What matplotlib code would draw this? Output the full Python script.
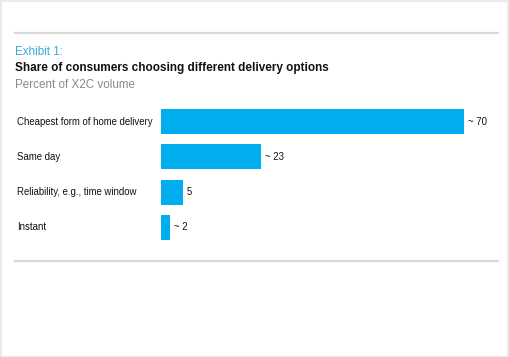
import matplotlib
matplotlib.use("Agg")
import matplotlib.pyplot as plt
from matplotlib.lines import Line2D
from matplotlib.patches import Rectangle
from matplotlib.transforms import blended_transform_factory

plt.rcParams['font.family'] = ['Liberation Sans', 'DejaVu Sans']

# data
categories = ["Cheapest form of home delivery", "Same day",
              "Reliability, e.g., time window", "Instant"]
values = [70, 23, 5, 2]
value_labels = ["~ 70", "~ 23", "5", "~ 2"]

W, H = 510, 357
fig = plt.figure(figsize=(W / 100, H / 100), dpi=100)

def fx(px):
    return px / W

def fy(py):
    return 1 - py / H

# outer light frame
fig.add_artist(Rectangle((0.001, 0.001), 0.996, 0.996, transform=fig.transFigure,
                         fill=False, edgecolor="#e6e6e6", linewidth=1.2))

# horizontal rules
for y in (33, 261):
    fig.add_artist(Line2D([fx(15), fx(498)], [fy(y), fy(y)], transform=fig.transFigure,
                          color="#d9d9d9", linewidth=1.6))

fig.text(fx(15), fy(52), "Exhibit 1:", color="#3aa8dc", fontsize=8.4, va="center")
fig.text(fx(15), fy(68), "Share of consumers choosing different delivery options",
         color="#111111", fontsize=8.5, fontweight="bold", va="center")
fig.text(fx(15), fy(85), "Percent of X2C volume", color="#8a8a8a", fontsize=8.4, va="center")

ax = fig.add_axes([fx(161), fy(245.1), fx(464) - fx(161), (245.1 - 103.9) / H])
pos = list(range(len(categories)))
ax.barh(pos, values, height=0.71, color="#00aeef")
ax.set_xlim(0, 70)
ax.set_ylim(3.5, -0.5)
ax.axis("off")

trans = blended_transform_factory(fig.transFigure, ax.transData)
for p, cat in zip(pos, categories):
    ax.text(fx(17), p, cat, transform=trans, fontsize=6.9, color="#111111", va="center")

for p, v, lab in zip(pos, values, value_labels):
    ax.annotate(lab, (v, p), xytext=(3, 0), textcoords="offset points",
                fontsize=6.9, color="#111111", va="center", annotation_clip=False)

fig.savefig("out.png", dpi=100, facecolor="white")
